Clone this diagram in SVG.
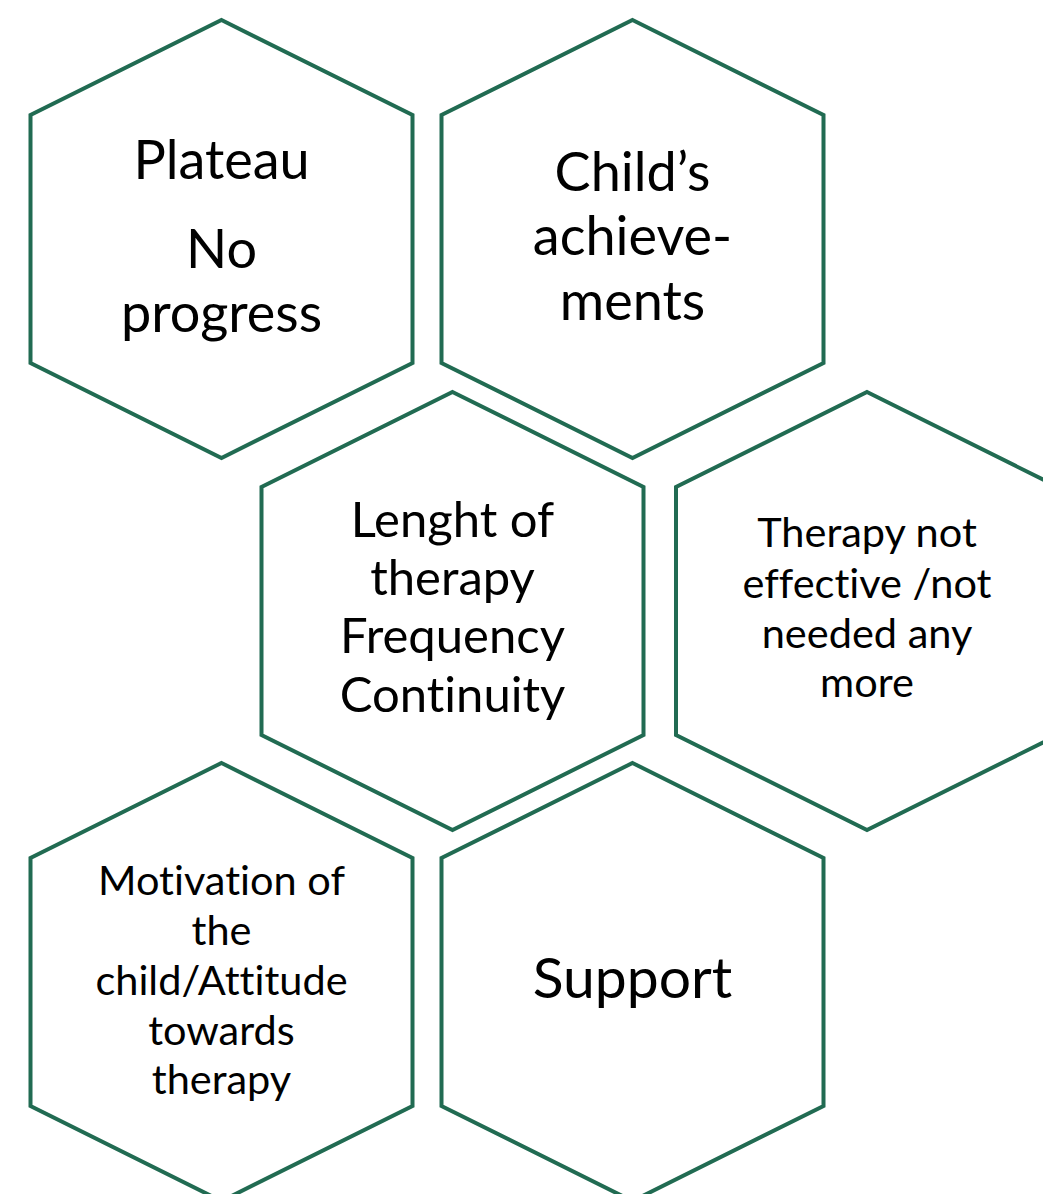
<svg xmlns="http://www.w3.org/2000/svg" width="1043" height="1194" viewBox="0 0 1043 1194">
<style>
.hex{fill:#ffffff;stroke:#216B52;stroke-width:4;stroke-linejoin:miter}
text{font-family:Lato,"Noto Sans",sans-serif;fill:#000;text-anchor:middle;font-variant-ligatures:none;font-feature-settings:"liga" 0}
.big{font-size:54px}
.mid{font-size:49px}
.sm{font-size:41.5px}
.xl{font-size:57px}
</style>
<defs>
<polygon id="hx" points="0,0 191,95 191,343 0,438 -191,343 -191,95"/>
</defs>
<g id="connectors"></g>
<g id="n1"><use href="#hx" class="hex" x="221.5" y="20"/>
<text class="big" x="221.5" y="179">Plateau</text>
<text class="big" x="221.5" y="268">No</text>
<text class="big" x="221.5" y="332">progress</text></g>
<g id="n2"><use href="#hx" class="hex" x="632.5" y="20"/>
<text class="big" x="632.5" y="191">Child’s</text>
<text class="big" x="632.5" y="255">achieve-</text>
<text class="big" x="632.5" y="320">ments</text></g>
<g id="n3"><use href="#hx" class="hex" x="452.5" y="392"/>
<text class="mid" x="452.5" y="537">Lenght of</text>
<text class="mid" x="452.5" y="595">therapy</text>
<text class="mid" x="452.5" y="653">Frequency</text>
<text class="mid" x="452.5" y="712">Continuity</text></g>
<g id="n4"><use href="#hx" class="hex" x="867" y="392"/>
<text class="sm" x="867" y="547">Therapy not</text>
<text class="sm" x="867" y="598">effective /not</text>
<text class="sm" x="867" y="648">needed any</text>
<text class="sm" x="867" y="697">more</text></g>
<g id="n5"><use href="#hx" class="hex" x="221.5" y="763"/>
<text class="sm" x="221.5" y="895">Motivation of</text>
<text class="sm" x="221.5" y="945">the</text>
<text class="sm" x="221.5" y="995">child/Attitude</text>
<text class="sm" x="221.5" y="1045">towards</text>
<text class="sm" x="221.5" y="1094">therapy</text></g>
<g id="n6"><use href="#hx" class="hex" x="632.5" y="763"/>
<text class="xl" x="632.5" y="998">Support</text></g>
</svg>
